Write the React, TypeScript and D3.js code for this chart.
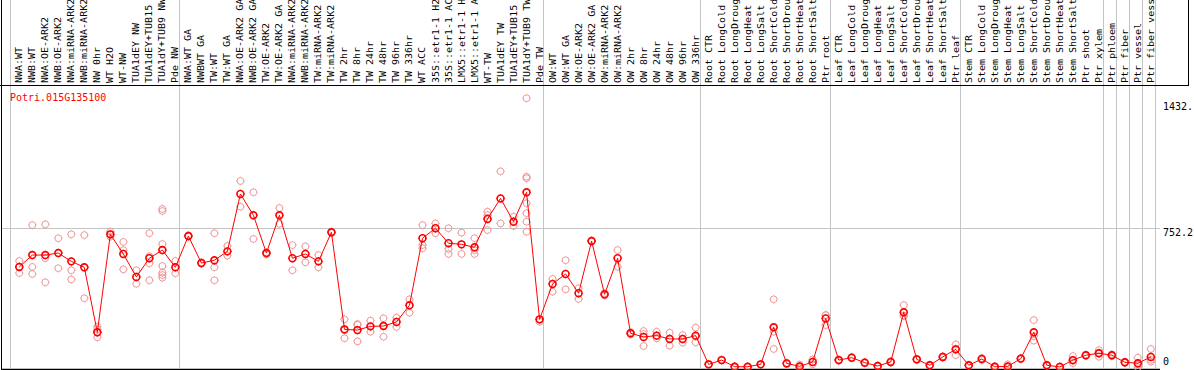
import React from "react";
import * as d3 from "d3";

const geneName = "Potri.015G135100";

const labels = [
  "NWA:WT", "NWB:WT", "NWA:OE-ARK2", "NWB:OE-ARK2", "NWA:miRNA-ARK2", "NWB:miRNA-ARK2",
  "NW 0hr", "WT H2O", "WT-NW", "TUA1dEY NW", "TUA1dEY+TUB15", "TUA1dY+TUB9 NW", "Pde NW",
  "NWA:WT GA", "NWBWT GA", "TW:WT", "TW:WT GA", "NWA:OE-ARK2 GA", "NWB:OE-ARK2 GA",
  "TW:OE-ARK2", "TW:OE-ARK2 GA", "NWA:miRNA-ARK2", "NWB:miRNA-ARK2", "TW:miRNA-ARK2",
  "TW:miRNA-ARK2", "TW 2hr", "TW 8hr", "TW 24hr", "TW 48hr", "TW 96hr", "TW 336hr",
  "WT ACC", "35S::etr1-1 H2", "35S::etr1-1 AC", "LMX5::etr1-1 H", "LMX5::etr1-1 A",
  "WT-TW", "TUA1dEY TW", "TUA1dEY+TUB15", "TUA1dY+TUB9 TW", "Pde TW",
  "OW:WT", "OW:WT GA", "OW:OE-ARK2", "OW:OE-ARK2 GA", "OW:miRNA-ARK2", "OW:miRNA-ARK2",
  "OW 2hr", "OW 8hr", "OW 24hr", "OW 48hr", "OW 96hr", "OW 336hr",
  "Root CTR", "Root LongCold", "Root LongDroug", "Root LongHeat", "Root LongSalt",
  "Root ShortCold", "Root ShortDrou", "Root ShortHeat", "Root ShortSalt", "Ptr root",
  "Leaf CTR", "Leaf LongCold", "Leaf LongDroug", "Leaf LongHeat", "Leaf LongSalt",
  "Leaf ShortCold", "Leaf ShortDrou", "Leaf ShortHeat", "Leaf ShortSalt", "Ptr leaf",
  "Stem CTR", "Stem LongCold", "Stem LongDroug", "Stem LongHeat", "Stem LongSalt",
  "Stem ShortCold", "Stem ShortDrou", "Stem ShortHeat", "Stem ShortSalt", "Ptr shoot",
  "Ptr xylem", "Ptr phloem", "Ptr fiber", "Ptr vessel", "Ptr fiber vess",
];

const meanValues = [
  542, 606, 606, 617, 572, 540, 189, 718, 612, 488, 589, 633, 540,
  709, 563, 578, 626, 936, 821, 617, 821, 589, 612, 572, 729, 205, 201, 221, 223, 245, 335,
  697, 751, 670, 664, 648, 801, 912, 786, 945, 259,
  450, 504, 400, 682, 394, 589, 184, 164, 171, 153, 153, 171,
  16, 39, 3, 3, 16, 216, 21, 5, 29, 264,
  39, 52, 25, 7, 29, 297, 43, 11, 56, 97,
  11, 45, 3, 5, 47, 189, 11, 2, 39, 65, 76,
  65, 27, 22, 56,
];

const replicateValues = [
  [574, 541, 509], [768, 542, 504], [772, 589, 459], [697, 535], [718, 524, 475],
  [714, 540, 373], [219, 162, 189, 205], [732, 718, 705], [677, 633, 529], [524, 451],
  [724, 600, 562, 470], [855, 844, 666, 547, 511, 498, 484], [574, 508],
  [712, 706], [566, 560], [724, 540, 470], [655, 603], [1006, 867], [945, 693],
  [620, 610], [860, 775], [660, 524], [653, 567], [606, 540], [732, 726],
  [259, 157, 200], [234, 140, 229], [252, 192], [265, 226, 165], [268, 218], [367, 295],
  [768, 643, 660], [777, 724], [751, 639, 612], [727, 612], [697, 633, 612],
  [840, 822, 741], [1058, 777], [813, 763], [1453, 1029, 1021, 886, 832, 786, 732], [259, 246],
  [477, 408], [578, 421], [427, 369], [684, 680], [400, 388], [633, 543],
  [190, 178], [196, 180, 115], [192, 170, 157], [187, 155, 117], [174, 152, 133], [214, 165, 135],
  [18, 14], [40, 38], [5, 1], [4, 2], [18, 14], [367, 192, 99], [24, 18], [14, 0, 1], [42, 16],
  [282, 282, 228],
  [42, 36], [55, 49], [28, 22], [9, 5], [33, 25], [336, 277, 278], [46, 40], [13, 9], [60, 52],
  [124, 66, 100],
  [13, 9], [50, 40], [5, 1], [16, 0, 0], [50, 44], [255, 168, 144], [13, 9], [5, 0],
  [61, 35, 22], [68, 62], [93, 78, 57],
  [70, 60], [30, 24], [52, 14, 0], [99, 40, 30],
];

const groupBreaks = [0, 13, 41, 53, 63, 73, 84, 85, 86, 87, 88];
const yTickValues = [1432, 752.2, 0];
const yTickLabels = ["1432.", "752.2", "0"];
const gridValues = [752.2];

const RED = "#ff0000";
const PINK = "#f09a9a";
const GRID = "#c4c4c4";
const MONO = "'DejaVu Sans Mono', 'Liberation Mono', monospace";

function Marker({ cx, cy, color, sw }: { cx: number; cy: number; color: string; sw: number }) {
  const r = 3.4;
  const t = 4.3;
  return (
    <g stroke={color} strokeWidth={sw} fill="none">
      <circle cx={cx} cy={cy} r={r} />
      <line x1={cx} y1={cy - r} x2={cx} y2={cy - t} strokeWidth={0.9} />
      <line x1={cx} y1={cy + r} x2={cx} y2={cy + t} strokeWidth={0.9} />
      <line x1={cx - r} y1={cy} x2={cx - t} y2={cy} strokeWidth={0.9} />
      <line x1={cx + r} y1={cy} x2={cx + t} y2={cy} strokeWidth={0.9} />
    </g>
  );
}

export default function App() {
  const W = 1194;
  const H = 370;
  const n = labels.length;
  const x = d3
    .scaleBand<number>()
    .domain(d3.range(n))
    .range([10.7, 1155.3])
    .paddingInner(0)
    .paddingOuter(0);
  const bw = x.bandwidth();
  const cx = (i: number) => (x(i) as number) + bw * 0.66;
  const edge = (k: number) => (k < n ? (x(k) as number) : (x(n - 1) as number) + bw);
  const y = d3.scaleLinear().domain([0, 752.2]).range([367.3, 228]);

  const linePath = d3
    .line<number>()
    .x((_d, i) => cx(i))
    .y((d) => y(d))(meanValues) as string;

  const headerY = 85.5;

  return (
    <div style={{ position: "absolute", left: 0, top: 0 }}>
      <svg width={W} height={H} style={{ display: "block", background: "#fff" }}>
        {groupBreaks.map((k) => {
          const gx = Math.floor(edge(k)) + 0.5;
          return (
            <line key={"vg" + k} x1={gx} x2={gx} y1={0} y2={368} stroke={GRID} strokeWidth={1} />
          );
        })}
        {gridValues.map((v) => {
          const gy = Math.floor(y(v)) + 0.5;
          return <line key={"hg" + v} x1={1} x2={1160} y1={gy} y2={gy} stroke={GRID} strokeWidth={1} />;
        })}
        <line x1={1.5} x2={1.5} y1={0} y2={370} stroke="#000" strokeWidth={1} />
        <line x1={0} x2={1189} y1={headerY} y2={headerY} stroke="#000" strokeWidth={1} />
        <line x1={1188.5} x2={1188.5} y1={0} y2={headerY} stroke="#000" strokeWidth={1} />
        <line x1={1} x2={1160} y1={369.5} y2={369.5} stroke="#000" strokeWidth={1.5} />

        {labels.map((lab, i) => (
          <text
            key={"lab" + i}
            transform={`translate(${cx(i) + 3},83) rotate(-90) scale(1,0.9)`}
            fontFamily={MONO}
            fontSize={10}
            fill="#000"
          >
            {lab}
          </text>
        ))}

        <text x={10} y={101} fontFamily={MONO} fontSize={10} fill={RED}>
          {geneName}
        </text>

        {yTickValues.map((v, i) => (
          <text
            key={"yt" + i}
            x={1163}
            y={Math.min(y(v) + 8, 365)}
            fontFamily={MONO}
            fontSize={10}
            fill="#000"
          >
            {yTickLabels[i]}
          </text>
        ))}

        {replicateValues.map((reps, i) =>
          reps.map((v, j) => <Marker key={`r${i}-${j}`} cx={cx(i)} cy={y(v)} color={PINK} sw={1} />)
        )}

        <path d={linePath} fill="none" stroke={RED} strokeWidth={1} />

        {meanValues.map((v, i) => (
          <Marker key={"m" + i} cx={cx(i)} cy={y(v)} color={RED} sw={1.6} />
        ))}
      </svg>
    </div>
  );
}
